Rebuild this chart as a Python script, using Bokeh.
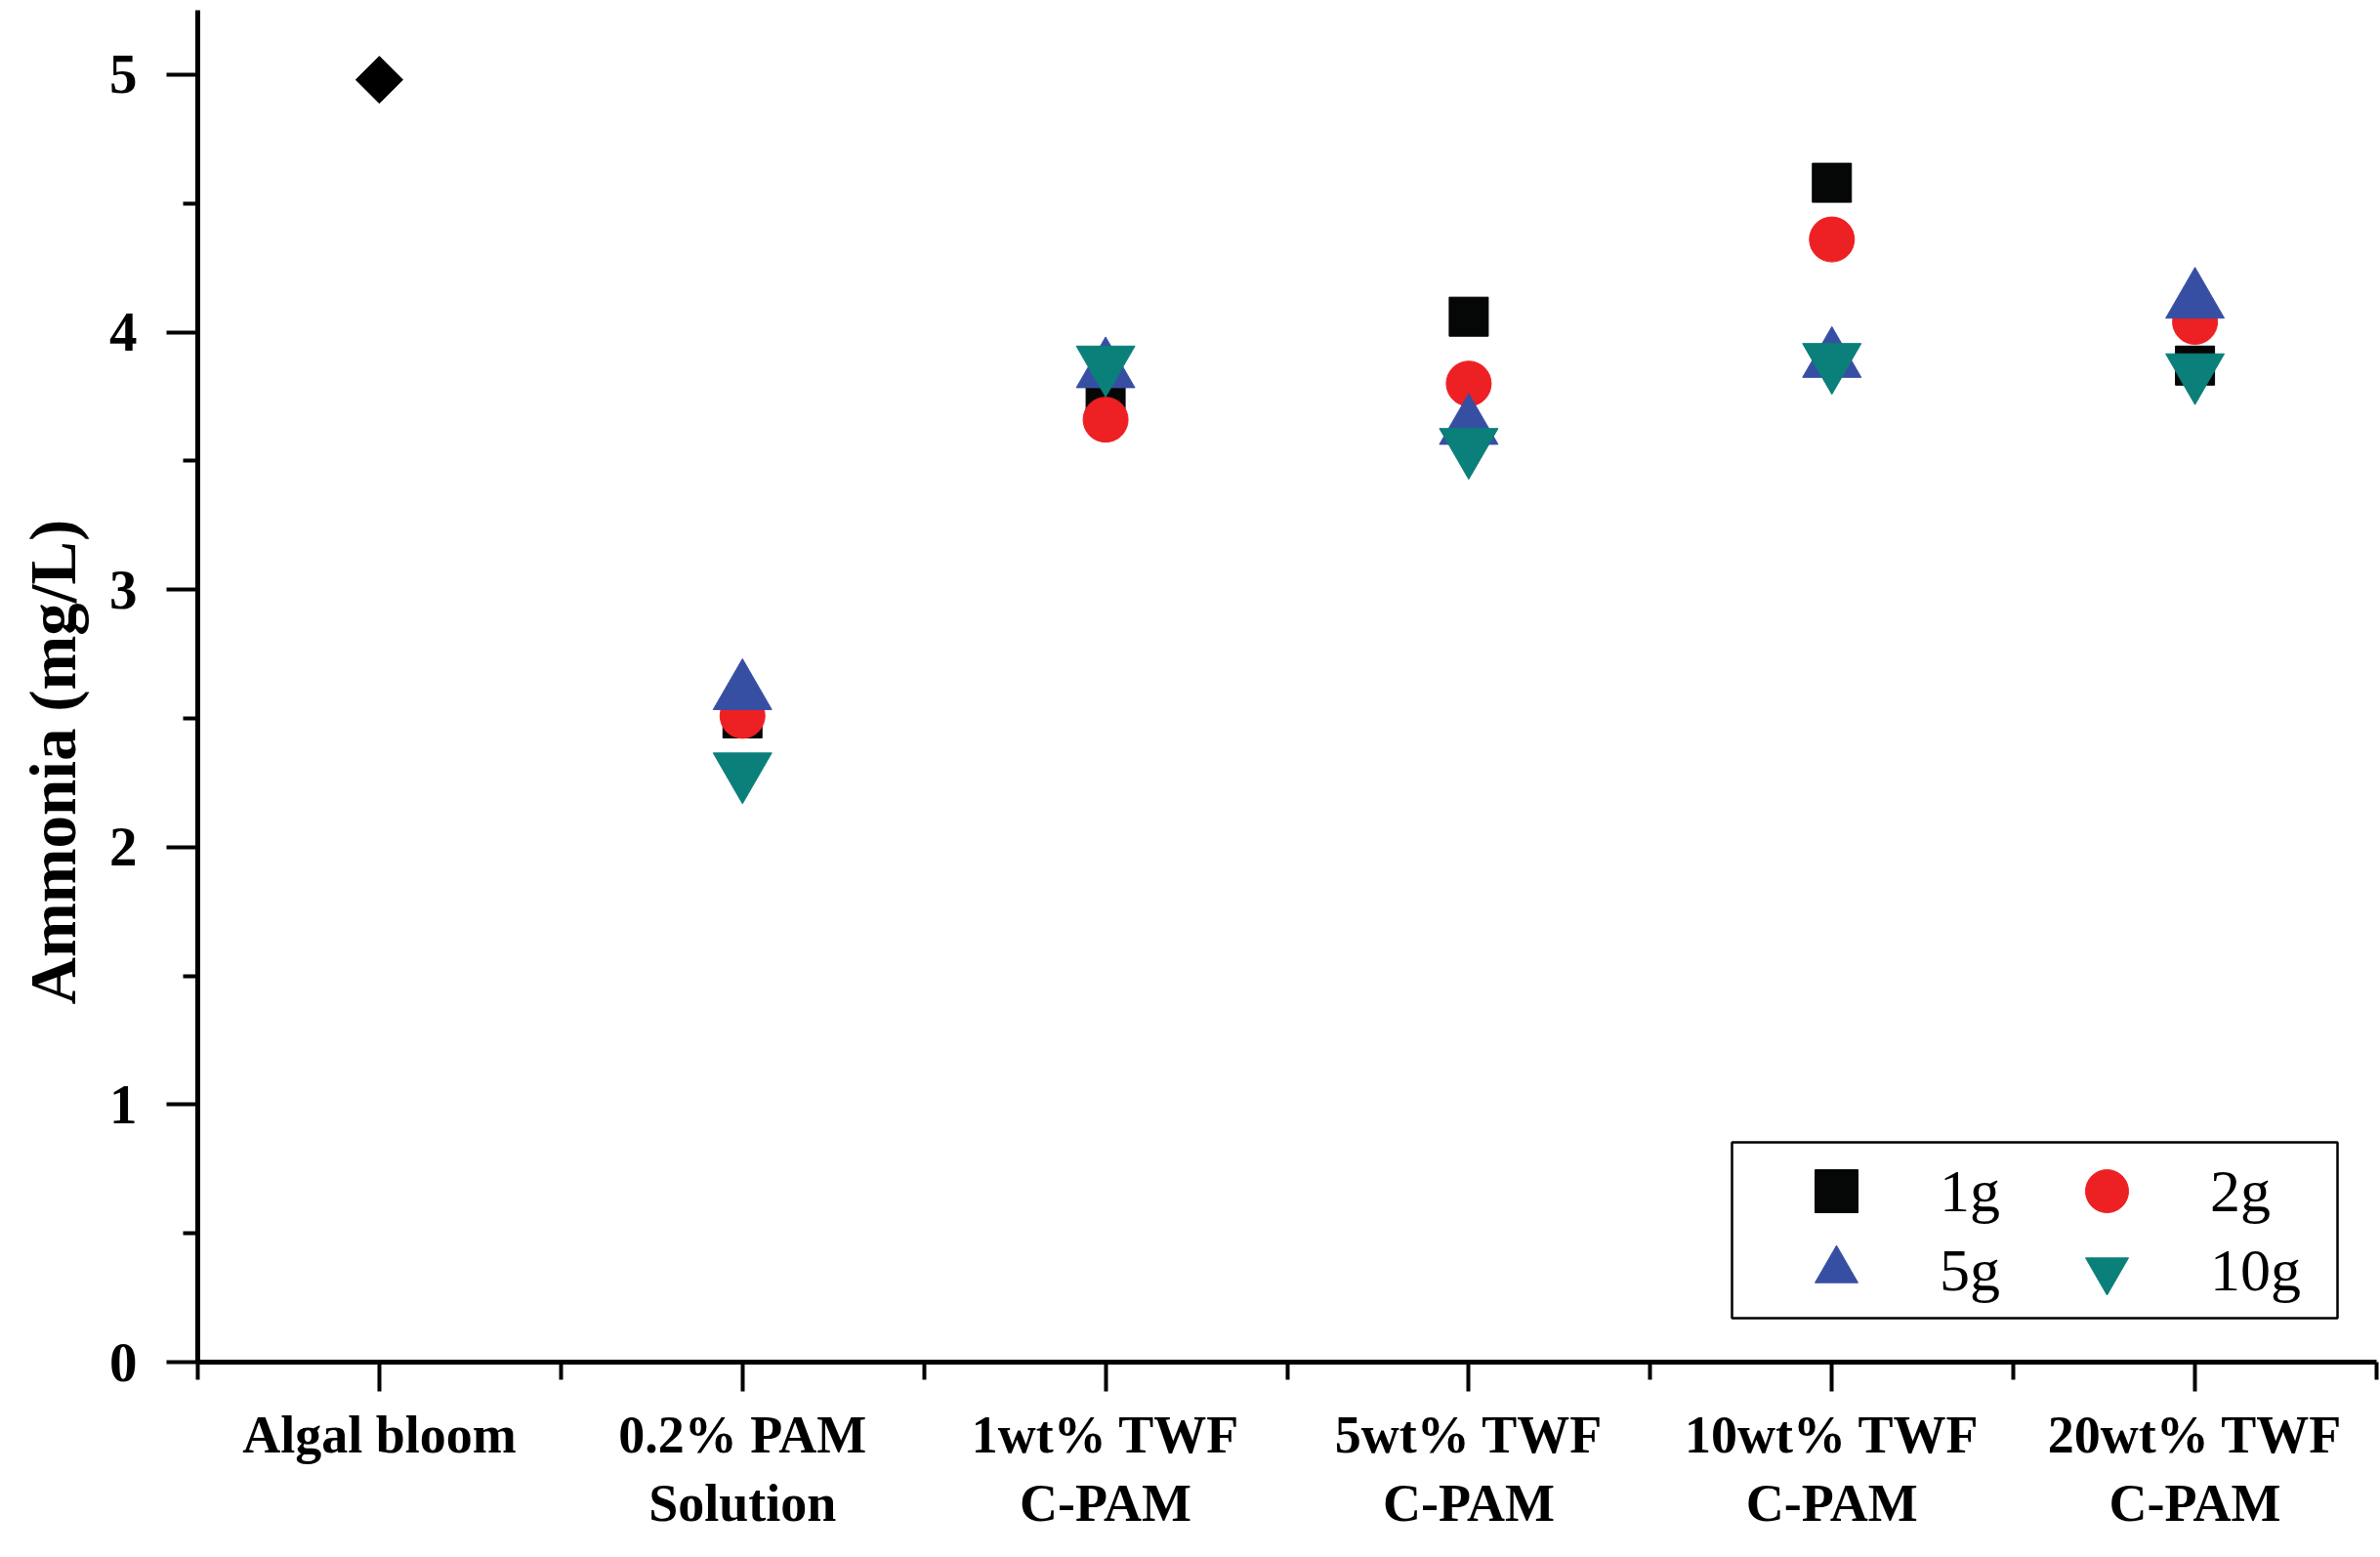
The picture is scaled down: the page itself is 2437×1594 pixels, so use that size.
import math
from bokeh.plotting import figure
from bokeh.models import FixedTicker, Legend, LegendItem, BoxAnnotation, Title
from bokeh.embed import file_html
from bokeh.resources import INLINE

# ---- data ----
categories = ["Algal bloom", "0.2% PAM\nSolution", "1wt% TWF\nC-PAM",
              "5wt% TWF\nC-PAM", "10wt% TWF\nC-PAM", "20wt% TWF\nC-PAM"]
cat_pos = [1, 2, 3, 4, 5, 6]
bloom_pos = [1]
bloom_value = [4.98]
treat_pos = [2, 3, 4, 5, 6]
vals_1g = [2.50, 3.74, 4.06, 4.58, 3.87]
vals_2g = [2.51, 3.66, 3.80, 4.36, 4.04]
vals_5g = [2.60, 3.85, 3.63, 3.89, 4.12]
vals_10g = [2.30, 3.88, 3.56, 3.89, 3.85]
y_ticks = [0, 1, 2, 3, 4, 5]
y_minor = [0.5, 1.5, 2.5, 3.5, 4.5]
x_minor = [0.5, 1.5, 2.5, 3.5, 4.5, 5.5, 6.5]
y_title = "Ammonia (mg/L)"

FONT = "Liberation Serif"

p = figure(width=2437, height=1594, x_range=(0.5, 6.5), y_range=(0, 5.25),
           output_backend="svg", toolbar_location=None,
           min_border=0, min_border_left=202, min_border_bottom=200,
           min_border_top=10, min_border_right=4)
p.outline_line_color = None
p.xgrid.visible = False
p.ygrid.visible = False
p.background_fill_color = "white"

# x axis
xa = p.xaxis[0]
xa.ticker = FixedTicker(ticks=cat_pos, minor_ticks=x_minor)
xa.major_label_overrides = {c: lab for c, lab in zip(cat_pos, categories)}
xa.major_label_text_font = FONT
xa.major_label_text_font_style = "bold"
xa.major_label_text_font_size = "54px"
xa.major_label_text_line_height = 1.17
xa.major_label_text_color = "black"
xa.major_label_standoff = 14
xa.axis_line_width = 5
xa.axis_line_color = "black"
xa.major_tick_line_width = 4
xa.minor_tick_line_width = 4
xa.major_tick_out = 30
xa.major_tick_in = 0
xa.minor_tick_out = 18
xa.minor_tick_in = 0

# y axis
ya = p.yaxis[0]
ya.ticker = FixedTicker(ticks=y_ticks, minor_ticks=y_minor)
ya.major_label_text_font = FONT
ya.major_label_text_font_style = "bold"
ya.major_label_text_font_size = "57px"
ya.major_label_text_color = "black"
ya.major_label_standoff = 30
ya.axis_line_width = 5
ya.axis_line_color = "black"
ya.major_tick_line_width = 4
ya.minor_tick_line_width = 4
ya.major_tick_out = 32
ya.major_tick_in = 0
ya.minor_tick_out = 15
ya.minor_tick_in = 0

# y axis title, in the left side panel (start aligned like the reference)
p.add_layout(Title(text=y_title, align="left", vertical_align="top",
                   offset=366, standoff=32, text_font=FONT,
                   text_font_style="bold", text_font_size="67px",
                   text_color="black"), "left")

# data
p.scatter(bloom_pos, bloom_value, marker="square", angle=math.pi / 4,
          size=34, color="black")
r1 = p.scatter(treat_pos, vals_1g, marker="square", size=40, color="#050706")
r2 = p.scatter(treat_pos, vals_2g, marker="circle", size=46, color="#ED2024")
r5 = p.scatter(treat_pos, vals_5g, marker="triangle", size=60, color="#374FA3")
r10 = p.scatter(treat_pos, vals_10g, marker="inverted_triangle", size=60, color="#0B7F7A")

# legend box
box = BoxAnnotation(left=1571, right=2191, bottom=45, top=225,
                    left_units="screen", right_units="screen",
                    bottom_units="screen", top_units="screen",
                    fill_color="white", fill_alpha=1.0,
                    line_color="black", line_width=2.5, line_alpha=1.0)
p.add_layout(box)

def make_legend(label, rend, x, y):
    lg = Legend(items=[LegendItem(label=label, renderers=[rend])],
                location=(x, y), orientation="vertical",
                glyph_width=110, glyph_height=110, spacing=0, padding=0,
                margin=0, label_standoff=51,
                label_text_font=FONT, label_text_font_size="62px",
                label_text_color="black",
                border_line_color=None, background_fill_alpha=0.0)
    p.add_layout(lg)

make_legend("1g", r1, 1623, 120)
make_legend("2g", r2, 1900, 120)
make_legend("5g", r5, 1623, 39)
make_legend("10g", r10, 1900, 39)

open("out.html", "w").write(file_html(p, INLINE))
